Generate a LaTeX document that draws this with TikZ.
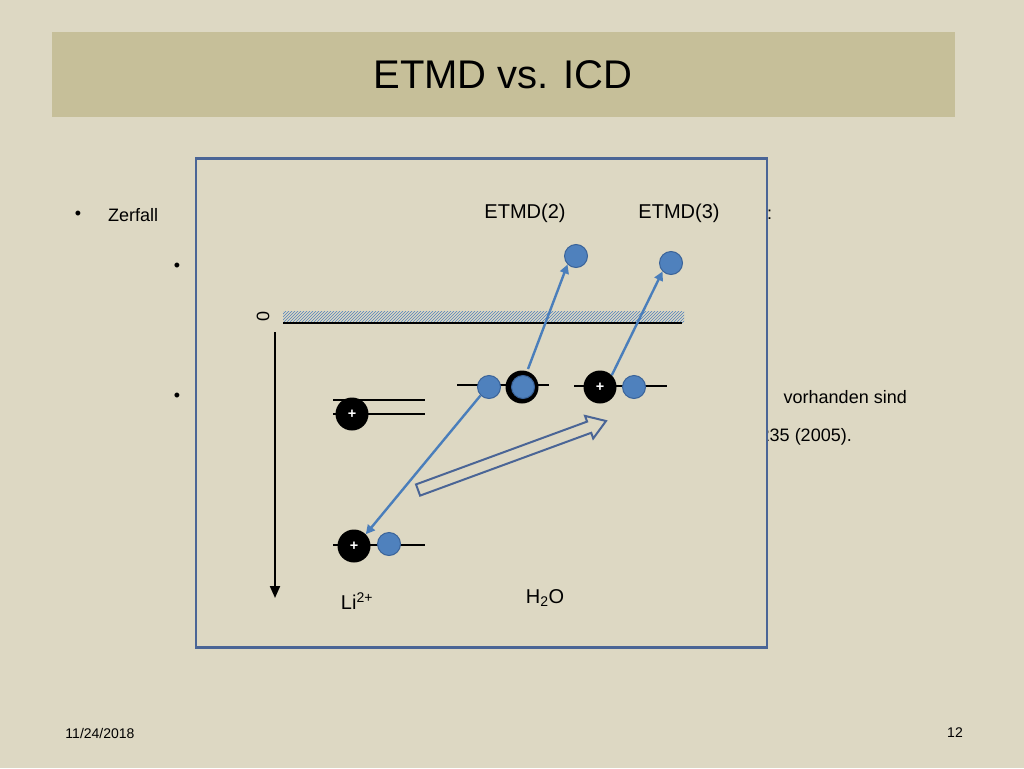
\documentclass[tikz,border=0pt]{standalone}
\usepackage{fontspec}
\setmainfont{Liberation Sans}
\usetikzlibrary{patterns,arrows.meta}
\definecolor{bg}{HTML}{DDD8C3}
\definecolor{band}{HTML}{C6BF99}
\definecolor{frame}{HTML}{4A6596}
\definecolor{el}{HTML}{4F81BD}
\definecolor{eldark}{HTML}{3A6399}
\definecolor{arr}{HTML}{4A7EBB}
\tikzset{
 elec/.style={circle,fill=el,draw=eldark,line width=1pt,minimum size=23pt,inner sep=0pt},
 ion/.style={circle,fill=black,minimum size=33pt,inner sep=0pt,text=white,font=\bfseries\Large},
 lvl/.style={line width=1.6pt},
 jump/.style={draw=arr,line width=2.4pt,-{Triangle[length=9pt,width=9pt]}},
 txt/.style={inner sep=0pt,font=\fontsize{18}{20}\selectfont}
}
\begin{document}
\begin{tikzpicture}[x=1pt,y=-1pt]
\useasboundingbox (0,0) rectangle (1024,768);
\fill[bg] (0,0) rectangle (1024,768);
\fill[band] (52,32) rectangle (955,117);
\node[inner sep=0pt,font=\fontsize{40}{44}\selectfont] (title) at (503,75) {ETMD vs. ICD};
% background slide text (partly hidden)
\node[txt] (b1) at (78,215) {\textbullet};
\node[txt,anchor=west] (t1) at (108,215) {Zerfall};
\node[txt] (b2) at (177,267) {\textbullet};
\node[txt] (b3) at (177,397) {\textbullet};
\node[txt,anchor=west] (t2) at (740,215) {xxx:};
\node[txt,anchor=east] (t3) at (907,397) {vorhanden sind};
\node[txt,anchor=east] (t4) at (852,437) {2005, 235 (2005).};
% diagram frame
\node[draw=frame,fill=bg,line width=2.5pt,minimum width=571pt,minimum height=489pt,inner sep=0pt] (box) at (481.5,403) {};
\node[inner sep=0pt,font=\fontsize{14}{16}\selectfont] (date) at (100,733) {11/24/2018};
\node[inner sep=0pt,font=\fontsize{14}{16}\selectfont] (pg) at (955,733) {12};
% axis
\node[inner sep=0pt,rotate=-90,font=\fontsize{18}{20}\selectfont] (zero) at (263,317) {0};
\coordinate (ax1) at (275,332);
\coordinate (ax2) at (275,598);
\draw[line width=2pt,-{Triangle[length=12pt,width=10pt]}] (ax1) -- (ax2);
% continuum
\fill[pattern=north east lines,pattern color=el] (283,311) rectangle (684,322);
\coordinate (c1) at (283,323); \coordinate (c2) at (682,323);
\draw[line width=2.5pt] (c1) -- (c2);
% labels
\node[inner sep=0pt,font=\fontsize{20}{22}\selectfont] (e2) at (525,213) {ETMD(2)};
\node[inner sep=0pt,font=\fontsize{20}{22}\selectfont] (e3) at (679,213) {ETMD(3)};
\node[inner sep=0pt,font=\fontsize{20}{22}\selectfont] (li) at (357,601) {Li\textsuperscript{2+}};
\node[inner sep=0pt,font=\fontsize{20}{22}\selectfont] (h2o) at (545,598) {H\textsubscript{2}O};
% levels
\coordinate (l1a) at (333,400); \coordinate (l1b) at (425,400);
\coordinate (l2a) at (333,414); \coordinate (l2b) at (425,414);
\coordinate (l3a) at (457,385); \coordinate (l3b) at (549,385);
\coordinate (l4a) at (574,386); \coordinate (l4b) at (667,386);
\coordinate (l5a) at (333,545); \coordinate (l5b) at (425,545);
\foreach \a/\b in {l1a/l1b,l2a/l2b,l3a/l3b,l4a/l4b,l5a/l5b} \draw[lvl] (\a) -- (\b);
% particles
\node[ion] (ionA) at (352,414) {+};
\node[elec] (w1) at (489,387) {};
\node[ion] (hole) at (522,387) {};
\node[elec] (w2) at (523,387) {};
\node[ion] (ionB) at (600,387) {+};
\node[elec] (w3) at (634,387) {};
\node[ion] (ionC) at (354,546) {+};
\node[elec] (li1) at (389,544) {};
\node[elec] (f2) at (576,256) {};
\node[elec] (f3) at (671,263) {};
% transitions
\draw[jump] (528,369) -- (f2.south west);
\draw[jump] (ionB.north east) -- (f3.south west);
\draw[jump] (w1.south west) -- (ionC.north east);
\draw[draw=frame,line width=2pt,fill=bg,line join=miter]
 (420.1,495.6) -- (591.2,432.8) -- (593.2,438.5) -- (606,421) -- (585,415.9) -- (587.1,421.6) -- (416,484.4) -- cycle;
\end{tikzpicture}
\end{document}
